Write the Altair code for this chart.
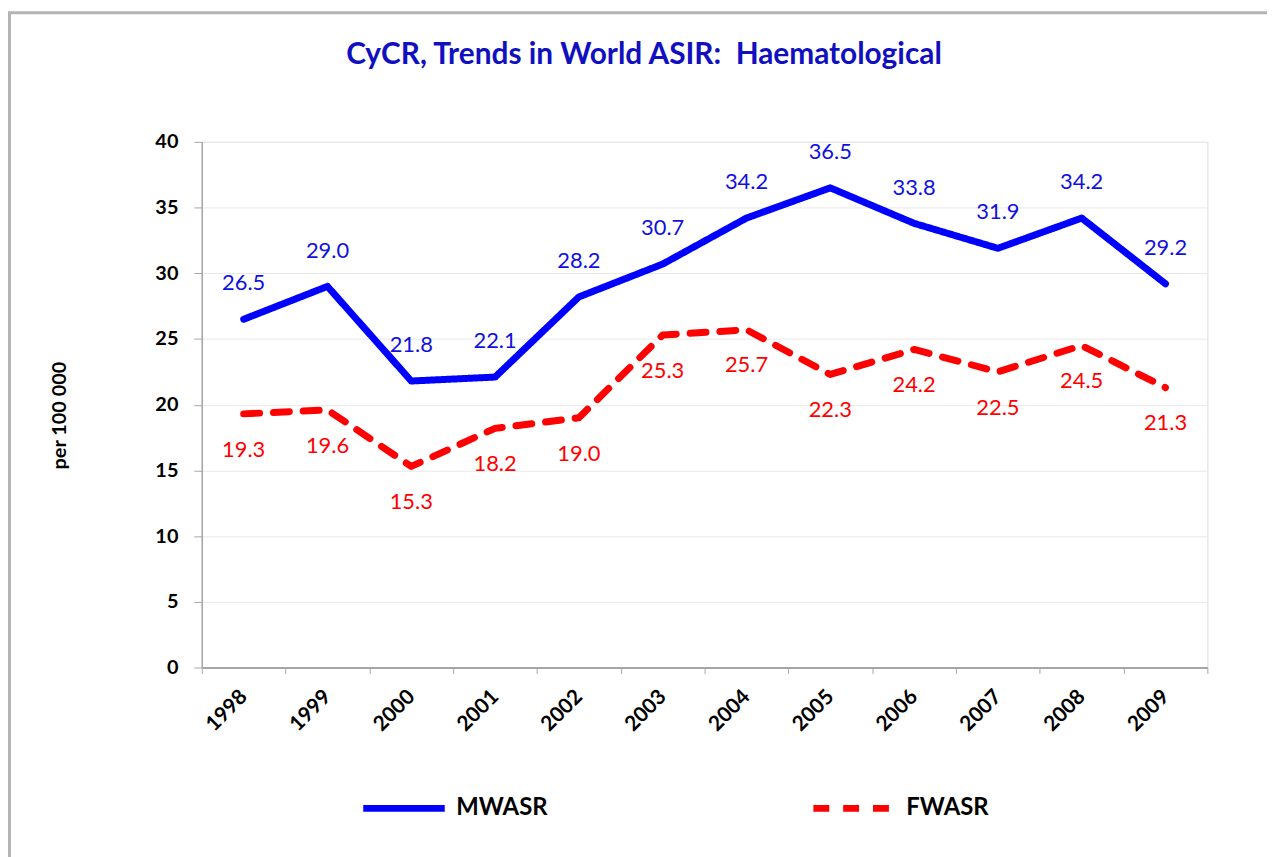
import altair as alt
import pandas as pd

years = ["1998", "1999", "2000", "2001", "2002", "2003", "2004", "2005", "2006", "2007", "2008", "2009"]
mwasr = [26.5, 29.0, 21.8, 22.1, 28.2, 30.7, 34.2, 36.5, 33.8, 31.9, 34.2, 29.2]
fwasr = [19.3, 19.6, 15.3, 18.2, 19.0, 25.3, 25.7, 22.3, 24.2, 22.5, 24.5, 21.3]
series = ["MWASR", "FWASR"]
colors = ["#0000FF", "#FF0000"]
label_colors = ["#1010E0", "#FF0000"]
y_ticks = [0, 5, 10, 15, 20, 25, 30, 35, 40]

rows = []
for name, vals in zip(series, [mwasr, fwasr]):
    for yr, v in zip(years, vals):
        rows.append({"year": yr, "value": v, "series": name, "label": f"{v:.1f}"})
df = pd.DataFrame(rows)

FONT = "Lato"

x_enc = alt.X(
    "year:O",
    bandPosition=0.5,
    sort=years,
    scale=alt.Scale(type="band", paddingInner=0, paddingOuter=0),
    axis=alt.Axis(
        title=None, labelAngle=-45, labelAlign="right", labelBaseline="middle",
        labelFont=FONT, labelFontSize=21, labelFontWeight="bold", labelColor="#000000",
        tickBand="extent", ticks=True, tickSize=6, tickColor="#a6a6a6",
        domainColor="#a6a6a6", domainWidth=2, grid=False, labelPadding=20,
    ),
)
y_enc = alt.Y(
    "value:Q",
    scale=alt.Scale(domain=[0, 40], nice=False),
    axis=alt.Axis(
        values=y_ticks, title="per 100 000", titleFont=FONT, titleFontSize=20,
        titleFontWeight="bold", titleColor="#000000", titleAngle=-90,
        titleX=-143, titleY=275, titleAlign="center", titleBaseline="middle",
        labelFont=FONT, labelFontSize=20, labelFontWeight="bold", labelColor="#000000",
        tickSize=8, tickColor="#a6a6a6", domainColor="#a6a6a6", domainWidth=1.5,
        gridColor="#e8e8e8", gridWidth=1, labelPadding=16,
    ),
)

legend_cfg = dict(
    title=None, orient="none", direction="horizontal", legendX=159, legendY=626,
    symbolType="stroke", symbolSize=6724, symbolStrokeWidth=7,
    labelFont=FONT, labelFontSize=24, labelFontWeight="bold", labelColor="#000000",
    labelOffset=8, columnPadding=252,
)

lines = alt.Chart(df).mark_line(strokeWidth=7, strokeCap="round", strokeJoin="round").encode(
    x=x_enc,
    y=y_enc,
    color=alt.Color(
        "series:N", sort=series,
        scale=alt.Scale(domain=series, range=colors),
        legend=alt.Legend(**legend_cfg),
    ),
    strokeDash=alt.StrokeDash(
        "series:N", sort=series,
        scale=alt.Scale(domain=series, range=[[1, 0], [16, 14]]),
        legend=alt.Legend(**legend_cfg),
    ),
)

m_labels = alt.Chart(df[df.series == "MWASR"]).mark_text(
    font=FONT, fontSize=22, color=label_colors[0], dy=-36, baseline="middle"
).encode(x=x_enc, y=y_enc, text="label:N")

f_labels = alt.Chart(df[df.series == "FWASR"]).mark_text(
    font=FONT, fontSize=22, color=label_colors[1], dy=36, baseline="middle"
).encode(x=x_enc, y=y_enc, text="label:N")

frame = alt.Chart(pd.DataFrame({"f": [0]})).mark_rect(
    fill=None, stroke="#b4b4b4", strokeWidth=3
).encode(
    x=alt.value(-193.5), x2=alt.value(1100), y=alt.value(-130), y2=alt.value(760)
)

chart = alt.layer(frame, lines, m_labels, f_labels).properties(
    width=1012,
    height=529,
    title=alt.Title(
        "CyCR, Trends in World ASIR:\u00a0 Haematological",
        font=FONT, fontSize=30, fontWeight="bold", color="#1010C0",
        anchor="middle", frame="group", dx=-61, offset=-59,
    ),
    autosize=alt.AutoSizeParams(type="none"),
    padding={"left": 195, "top": 132, "right": 60, "bottom": 188},
).configure_view(stroke=None).configure(background="white")

chart.save("out.html", embed_options={"renderer": "svg", "actions": False})
